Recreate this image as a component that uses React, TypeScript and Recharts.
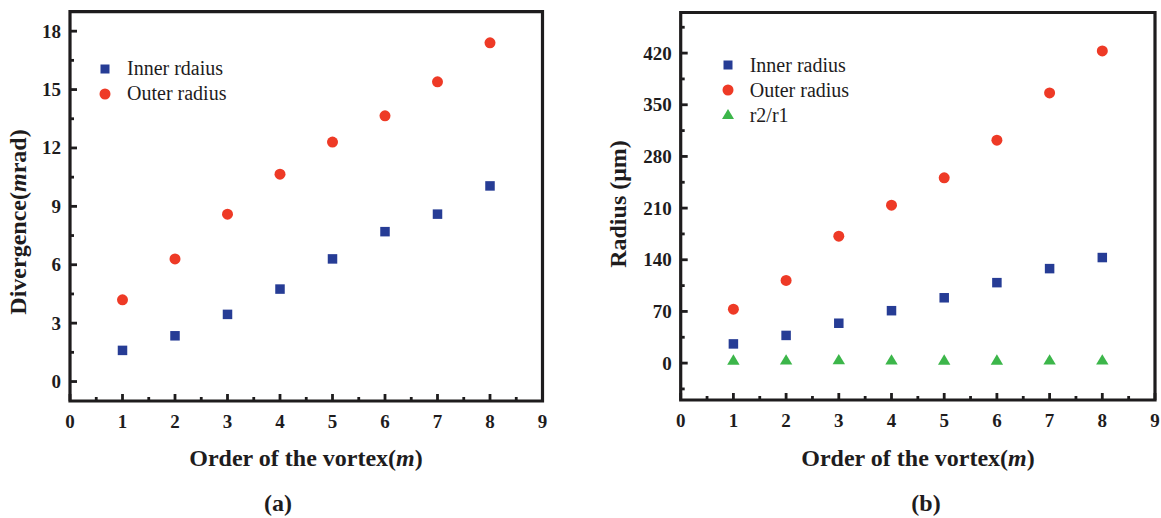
import React from 'react';
import { ScatterChart, Scatter, XAxis, YAxis, ReferenceArea, Legend } from 'recharts';

// vortex order m
const orders = [1, 2, 3, 4, 5, 6, 7, 8];

// (a) divergence in mrad
const divergenceInner = [1.6, 2.35, 3.45, 4.75, 6.3, 7.7, 8.6, 10.05];
const divergenceOuter = [4.2, 6.3, 8.6, 10.65, 12.3, 13.65, 15.4, 17.4];

// (b) radius in µm, plus the outer/inner ratio
const radiusInner = [26, 37.5, 54, 71, 88.5, 109, 128, 143];
const radiusOuter = [73, 112, 172, 214, 251, 302, 366, 423];
const radiusRatio = [2.8, 3.0, 3.2, 3.0, 2.8, 2.8, 2.9, 3.0];

const orderTicks = [0, 1, 2, 3, 4, 5, 6, 7, 8, 9];
const orderMinorTicks = [0.5, 1.5, 2.5, 3.5, 4.5, 5.5, 6.5, 7.5, 8.5];
const divergenceTicks = [0, 3, 6, 9, 12, 15, 18];
const divergenceMinorTicks = [1.5, 4.5, 7.5, 10.5, 13.5, 16.5];
const radiusTicks = [0, 70, 140, 210, 280, 350, 420];
const radiusMinorTicks = [-35, 35, 105, 175, 245, 315, 385, 455];

const BLUE = '#263c95';
const RED = '#ee3a26';
const GREEN = '#3cb64a';
const INK = '#1e1c1d';
const FONT = '"Liberation Serif", "Times New Roman", serif';

const toPoints = (ys: number[]) => orders.map((m, i) => ({ m, v: ys[i] }));
const merge = (a: number[], b: number[]) => [...a, ...b].sort((p, q) => p - q);

const SquareDot = (p: any) => (
  <rect x={p.cx - 4.75} y={p.cy - 4.75} width={9.5} height={9.5} fill={p.fill} />
);
const CircleDot = (p: any) => <circle cx={p.cx} cy={p.cy} r={5.5} fill={p.fill} />;
const TriangleDot = (p: any) => (
  <polygon
    points={`${p.cx},${p.cy - 6.7} ${p.cx - 6.2},${p.cy + 3.6} ${p.cx + 6.2},${p.cy + 3.6}`}
    fill={p.fill}
  />
);

// inward ticks, major ones get a label
const makeYTick = (major: number[]) => (props: any) => {
  const { x, y, payload } = props;
  const isMajor = major.includes(payload.value);
  return (
    <g>
      <line x1={x} x2={x + (isMajor ? 7 : 4)} y1={y} y2={y} stroke={INK} strokeWidth={2.8} />
      {isMajor && (
        <text
          x={x - 9}
          y={y}
          textAnchor="end"
          dominantBaseline="central"
          fontFamily={FONT}
          fontWeight="bold"
          fontSize={19}
          fill={INK}
        >
          {payload.value}
        </text>
      )}
    </g>
  );
};

const makeXTick = (major: number[]) => (props: any) => {
  const { x, y, payload } = props;
  const isMajor = major.includes(payload.value);
  return (
    <g>
      <line x1={x} x2={x} y1={y} y2={y - (isMajor ? 7 : 4)} stroke={INK} strokeWidth={2.8} />
      {isMajor && (
        <text
          x={x}
          y={y + 20}
          textAnchor="middle"
          dominantBaseline="central"
          fontFamily={FONT}
          fontWeight="bold"
          fontSize={19}
          fill={INK}
        >
          {payload.value}
        </text>
      )}
    </g>
  );
};

const LegendMarker = ({ type, color }: { type: string; color: string }) => (
  <svg width={14} height={14}>
    {type === 'square' && <rect x={2.5} y={2.5} width={9} height={9} fill={color} />}
    {type === 'circle' && <circle cx={7} cy={7} r={5.5} fill={color} />}
    {type === 'triangle' && <polygon points="7,1 1,11 13,11" fill={color} />}
  </svg>
);

const renderLegend = (props: any) => (
  <div style={{ fontFamily: FONT, fontSize: 20, color: INK }}>
    {(props.payload || []).map((entry: any) => (
      <div key={entry.value} style={{ display: 'flex', alignItems: 'center', height: 25 }}>
        <LegendMarker type={entry.type} color={entry.color} />
        <span style={{ marginLeft: 15, whiteSpace: 'nowrap' }}>{entry.value}</span>
      </div>
    ))}
  </div>
);

const titleStyle: React.CSSProperties = {
  position: 'absolute',
  transform: 'translate(-50%, -50%)',
  fontFamily: FONT,
  fontWeight: 'bold',
  fontSize: 24,
  color: INK,
  whiteSpace: 'nowrap',
};

const App: React.FC = () => {
  return (
    <div style={{ position: 'absolute', left: 0, top: 0, width: 1161, height: 518, background: '#fff' }}>
      {/* (a) divergence */}
      <div style={{ position: 'absolute', left: 0, top: 0 }}>
        <ScatterChart width={600} height={518} margin={{ top: 11.7, right: 57.5, bottom: 87, left: 0 }}>
          <XAxis
            type="number"
            dataKey="m"
            domain={[0, 9]}
            ticks={merge(orderTicks, orderMinorTicks)}
            interval={0}
            axisLine={false}
            tickLine={false}
            tickSize={0}
            tickMargin={0}
            height={30}
            tick={makeXTick(orderTicks)}
          />
          <YAxis
            type="number"
            dataKey="v"
            domain={[-1, 19]}
            ticks={merge(divergenceTicks, divergenceMinorTicks)}
            interval={0}
            axisLine={false}
            tickLine={false}
            tickSize={0}
            tickMargin={0}
            width={70}
            tick={makeYTick(divergenceTicks)}
          />
          <ReferenceArea x1={0} x2={9} y1={-1} y2={19} fill="none" stroke={INK} strokeWidth={3.2} />
          <Legend
            layout="vertical"
            align="center"
            verticalAlign="middle"
            content={renderLegend}
            wrapperStyle={{ left: 98, top: 56, width: 'auto' }}
          />
          <Scatter
            name="Inner rdaius"
            data={toPoints(divergenceInner)}
            fill={BLUE}
            legendType="square"
            shape={SquareDot}
            isAnimationActive={false}
          />
          <Scatter
            name="Outer radius"
            data={toPoints(divergenceOuter)}
            fill={RED}
            legendType="circle"
            shape={CircleDot}
            isAnimationActive={false}
          />
        </ScatterChart>
      </div>

      {/* (b) radius */}
      <div style={{ position: 'absolute', left: 600, top: 0 }}>
        <ScatterChart width={561} height={518} margin={{ top: 12.5, right: 6, bottom: 88, left: 0 }}>
          <XAxis
            type="number"
            dataKey="m"
            domain={[0, 9]}
            ticks={merge(orderTicks, orderMinorTicks)}
            interval={0}
            axisLine={false}
            tickLine={false}
            tickSize={0}
            tickMargin={0}
            height={30}
            tick={makeXTick(orderTicks)}
          />
          <YAxis
            type="number"
            dataKey="v"
            domain={[-50, 475]}
            ticks={merge(radiusTicks, radiusMinorTicks)}
            interval={0}
            axisLine={false}
            tickLine={false}
            tickSize={0}
            tickMargin={0}
            width={80.7}
            tick={makeYTick(radiusTicks)}
          />
          <ReferenceArea x1={0} x2={9} y1={-50} y2={475} fill="none" stroke={INK} strokeWidth={3.2} />
          <Legend
            layout="vertical"
            align="center"
            verticalAlign="middle"
            content={renderLegend}
            wrapperStyle={{ left: 120.7, top: 52.5, width: 'auto' }}
          />
          <Scatter
            name="Inner radius"
            data={toPoints(radiusInner)}
            fill={BLUE}
            legendType="square"
            shape={SquareDot}
            isAnimationActive={false}
          />
          <Scatter
            name="Outer radius"
            data={toPoints(radiusOuter)}
            fill={RED}
            legendType="circle"
            shape={CircleDot}
            isAnimationActive={false}
          />
          <Scatter
            name="r2/r1"
            data={toPoints(radiusRatio)}
            fill={GREEN}
            legendType="triangle"
            shape={TriangleDot}
            isAnimationActive={false}
          />
        </ScatterChart>
      </div>

      {/* axis titles and panel labels */}
      <div style={{ ...titleStyle, left: 18, top: 222, transform: 'translate(-50%, -50%) rotate(-90deg)' }}>
        Divergence(<i>m</i>rad)
      </div>
      <div style={{ ...titleStyle, left: 618, top: 204, transform: 'translate(-50%, -50%) rotate(-90deg)' }}>
        Radius (μm)
      </div>
      <div style={{ ...titleStyle, left: 306, top: 458 }}>
        Order of the vortex(<i>m</i>)
      </div>
      <div style={{ ...titleStyle, left: 918, top: 458 }}>
        Order of the vortex(<i>m</i>)
      </div>
      <div style={{ ...titleStyle, left: 278, top: 503 }}>(a)</div>
      <div style={{ ...titleStyle, left: 926, top: 503 }}>(b)</div>
    </div>
  );
};

export default App;
